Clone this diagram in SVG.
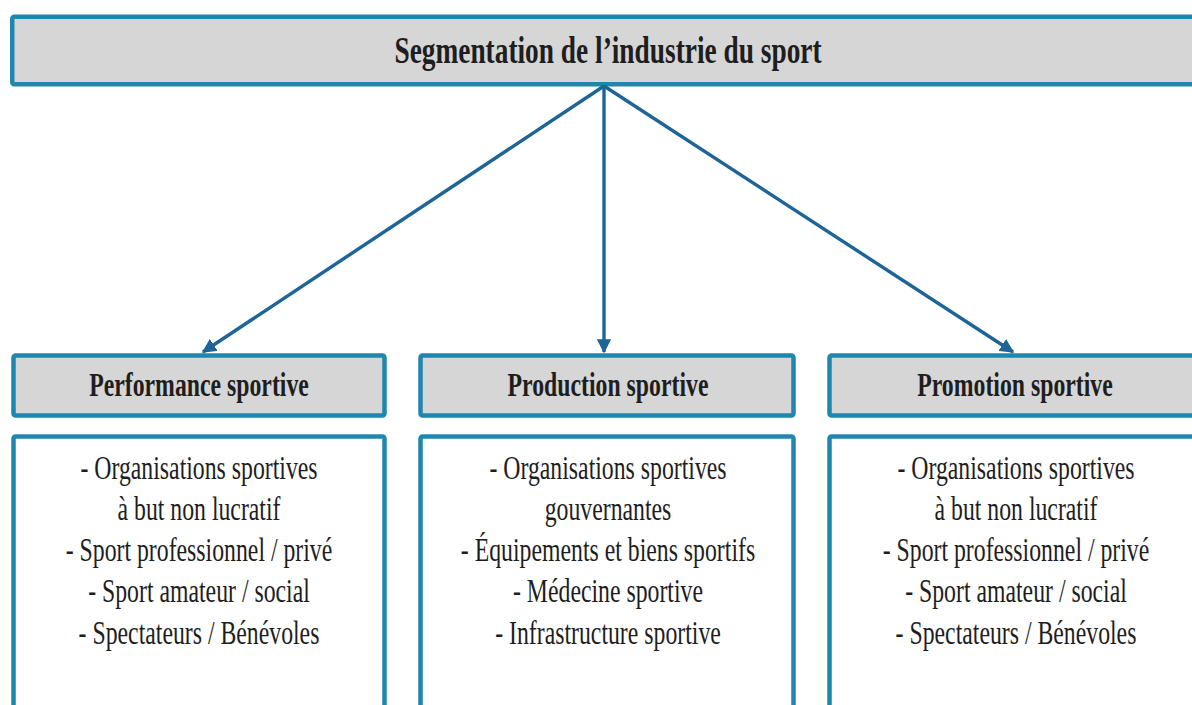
<svg xmlns="http://www.w3.org/2000/svg" width="1192" height="705" viewBox="0 0 1192 705">
<defs>
<style>
.box{stroke:#1f87ae;stroke-width:4.5;}
.hdr{fill:#d6d6d6;}
.body{fill:#ffffff;}
.t{font-family:"Liberation Serif","Times New Roman",serif;fill:#1e1e1e;text-anchor:middle;}
.b{font-weight:bold;}
.conn line{stroke:#1d6497;stroke-width:3.4;fill:none;}
</style>
<marker id="ah" viewBox="0 0 10 10" refX="9" refY="5" markerWidth="4.2" markerHeight="4.2" orient="auto" markerUnits="strokeWidth">
<path d="M0,0 L10,5 L0,10 Z" fill="#1d6497"/>
</marker>
</defs>
<rect width="1192" height="705" fill="#ffffff"/>
<g id="title">
<rect class="box hdr" x="12.25" y="16.75" width="1200" height="67.5" rx="2"/>
<text class="t b" font-size="38" transform="translate(608 62.5) scale(0.72 1)" x="0" y="0">Segmentation de l’industrie du sport</text>
</g>
<g id="connectors" class="conn">
<line x1="604" y1="86" x2="203" y2="352" marker-end="url(#ah)"/>
<line x1="604" y1="86" x2="604" y2="352" marker-end="url(#ah)"/>
<line x1="604" y1="86" x2="1013" y2="352" marker-end="url(#ah)"/>
</g>
<g id="performance">
<rect class="box hdr" x="13.5" y="355.5" width="371" height="60" rx="2"/>
<text class="t b" font-size="33" transform="translate(199 396) scale(0.72 1)" x="0" y="0">Performance sportive</text>
<rect class="box body" x="13.5" y="436.5" width="371" height="300" rx="2"/>
<g transform="translate(199 0) scale(0.72 1)">
<text class="t" font-size="33" x="0" y="479">- Organisations sportives</text>
<text class="t" font-size="33" x="0" y="520">à but non lucratif</text>
<text class="t" font-size="33" x="0" y="561.5">- Sport professionnel / privé</text>
<text class="t" font-size="33" x="0" y="602.5">- Sport amateur / social</text>
<text class="t" font-size="33" x="0" y="644">- Spectateurs / Bénévoles</text>
</g>
</g>
<g id="production">
<rect class="box hdr" x="420.5" y="355.5" width="373" height="60" rx="2"/>
<text class="t b" font-size="33" transform="translate(608 396) scale(0.72 1)" x="0" y="0">Production sportive</text>
<rect class="box body" x="420.5" y="436.5" width="373" height="300" rx="2"/>
<g transform="translate(608 0) scale(0.72 1)">
<text class="t" font-size="33" x="0" y="479">- Organisations sportives</text>
<text class="t" font-size="33" x="0" y="520">gouvernantes</text>
<text class="t" font-size="33" x="0" y="561.5">- Équipements et biens sportifs</text>
<text class="t" font-size="33" x="0" y="602.5">- Médecine sportive</text>
<text class="t" font-size="33" x="0" y="644">- Infrastructure sportive</text>
</g>
</g>
<g id="promotion">
<rect class="box hdr" x="829.5" y="355.5" width="400" height="60" rx="2"/>
<text class="t b" font-size="33" transform="translate(1015 396) scale(0.72 1)" x="0" y="0">Promotion sportive</text>
<rect class="box body" x="829.5" y="436.5" width="400" height="300" rx="2"/>
<g transform="translate(1016 0) scale(0.72 1)">
<text class="t" font-size="33" x="0" y="479">- Organisations sportives</text>
<text class="t" font-size="33" x="0" y="520">à but non lucratif</text>
<text class="t" font-size="33" x="0" y="561.5">- Sport professionnel / privé</text>
<text class="t" font-size="33" x="0" y="602.5">- Sport amateur / social</text>
<text class="t" font-size="33" x="0" y="644">- Spectateurs / Bénévoles</text>
</g>
</g>
</svg>
